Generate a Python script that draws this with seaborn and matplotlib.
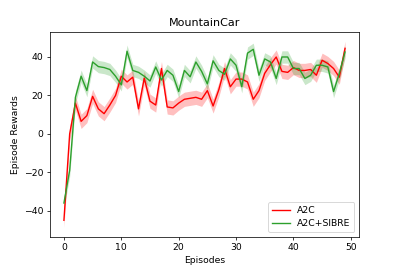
import numpy as np
import pandas as pd
import seaborn as sns
import matplotlib
matplotlib.use("Agg")
import matplotlib.pyplot as plt

episodes = list(range(50))

a2c = [-45, 0, 16, 6.5, 9.5, 19.5, 13, 10.5, 15, 20,
       30, 27, 29.5, 13, 29, 17, 15, 34, 14, 13.5,
       16, 18, 18.5, 19, 18, 22.5, 14.5, 23, 34, 24.5,
       28.5, 28.5, 27, 18, 22.5, 31.5, 36, 40, 32.5, 32,
       34.5, 33, 33, 33.5, 30.5, 38.3, 36.6, 34, 29.5, 44.5]

a2c_sibre = [-36, -19, 19, 30, 22.5, 37.4, 35, 34.5, 33.5, 30,
             25.5, 43, 33, 32, 30, 27.5, 34.8, 28, 33, 30.5,
             22, 33, 29.7, 37.4, 32.5, 26, 38, 33, 31, 39,
             35.7, 24.5, 42, 44, 30.5, 39, 37.4, 28.8, 40, 40,
             34, 34, 28.8, 30.5, 35.7, 35.7, 34.8, 22, 31.4, 42.6]

# half width of the shaded band
a2c_spread = 3.7
sibre_spread = 3.2

df = pd.DataFrame({"episode": episodes, "A2C": a2c, "A2C+SIBRE": a2c_sibre})

fig, ax = plt.subplots(figsize=(6, 4), dpi=66.5)

series = [("A2C", a2c_spread, "red"), ("A2C+SIBRE", sibre_spread, "tab:green")]
for name, spread, color in series:
    sns.lineplot(data=df, x="episode", y=name, color=color, label=name, ax=ax, linewidth=1.5)
    y = df[name].to_numpy()
    ax.fill_between(df["episode"], y - spread, y + spread, color=color, alpha=0.25, linewidth=0)

ax.set_title("MountainCar")
ax.set_xlabel("Episodes")
ax.set_ylabel("Episode Rewards")
ax.set_xticks([0, 10, 20, 30, 40, 50])
ax.legend(loc="lower right")

fig.savefig("out.png", dpi=66.5)
